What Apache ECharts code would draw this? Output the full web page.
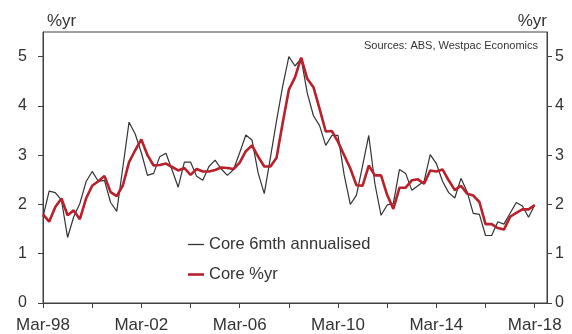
<!DOCTYPE html>
<html>
<head>
<meta charset="utf-8">
<script src="https://cdn.jsdelivr.net/npm/echarts@6/dist/echarts.min.js"></script>
<style>
html,body{margin:0;padding:0;background:#fff;}
#chart{width:572px;height:334px;}
</style>
</head>
<body>
<div id="chart"></div>
<script>
// Quarterly categories Mar-98 .. Sep-18 (axis runs two quarters past the last data point)
var months = ['Mar', 'Jun', 'Sep', 'Dec'];
var categories = [];
for (var y = 1998; y <= 2018; y++) {
  for (var q = 0; q < 4; q++) {
    categories.push(months[q] + '-' + String(y).slice(2));
  }
}
categories = categories.slice(0, 83);

var yTicks = [0, 1, 2, 3, 4, 5];

var seriesNames = ['Core 6mth annualised', 'Core %yr'];

var core6mth = [
  1.75, 2.27, 2.24, 2.09, 1.33, 1.75, 2.02, 2.46, 2.67, 2.47,
  2.49, 2.04, 1.86, 2.76, 3.67, 3.43, 3.05, 2.59, 2.63, 2.97,
  3.04, 2.70, 2.35, 2.86, 2.86, 2.57, 2.49, 2.77, 2.90, 2.72,
  2.59, 2.71, 3.05, 3.41, 3.31, 2.64, 2.22, 2.95, 3.70, 4.40,
  5.00, 4.81, 4.96, 4.26, 3.80, 3.60, 3.20, 3.40, 3.40, 2.60,
  2.00, 2.19, 2.79, 3.40, 2.42, 1.78, 1.99, 2.02, 2.71, 2.63,
  2.29, 2.38, 2.47, 3.01, 2.83, 2.47, 2.24, 2.13, 2.53, 2.26,
  1.82, 1.80, 1.37, 1.37, 1.65, 1.60, 1.82, 2.04, 1.97, 1.74,
  1.99
];

var coreYr = [
  1.80, 1.65, 1.95, 2.12, 1.78, 1.88, 1.70, 2.12, 2.38, 2.47,
  2.58, 2.25, 2.17, 2.39, 2.86, 3.10, 3.32, 3.00, 2.79, 2.80,
  2.83, 2.76, 2.69, 2.74, 2.60, 2.72, 2.67, 2.67, 2.70, 2.75,
  2.74, 2.72, 2.85, 3.08, 3.20, 2.97, 2.77, 2.77, 2.95, 3.66,
  4.33, 4.58, 4.98, 4.55, 4.38, 3.94, 3.48, 3.49, 3.27, 3.00,
  2.73, 2.39, 2.38, 2.79, 2.59, 2.59, 2.19, 1.91, 2.34, 2.34,
  2.49, 2.51, 2.42, 2.69, 2.67, 2.71, 2.49, 2.29, 2.38, 2.22,
  2.18, 2.05, 1.60, 1.60, 1.52, 1.49, 1.75, 1.83, 1.90, 1.90,
  1.99
];

var FONT = '"Liberation Sans", Arial, sans-serif';
var TXT = '#333333';
var AX = '#404040';
var BLACK = '#333333';
var RED = '#B8202B';

function yAxisDef(pos, margin) {
  return {
    type: 'value',
    position: pos,
    min: 0,
    max: 5.5,
    interval: 1,
    splitLine: { show: false },
    axisLine: { show: true, lineStyle: { color: AX, width: 1 } },
    axisTick: { show: true, inside: false, length: 5, lineStyle: { color: AX }, customValues: yTicks },
    axisLabel: {
      show: true, margin: margin, color: TXT, fontFamily: FONT, fontSize: 16,
      customValues: yTicks
    }
  };
}

function legendDef(name, top, h) {
  return {
    orient: 'vertical',
    left: 183,
    top: top,
    icon: 'rect',
    itemWidth: 16,
    itemHeight: h,
    textStyle: { color: TXT, fontFamily: FONT, fontSize: 16.5 },
    data: [name]
  };
}

var chart = echarts.init(document.getElementById('chart'), null, { renderer: 'canvas' });
chart.setOption({
  animation: false,
  backgroundColor: '#ffffff',
  grid: {
    left: 43, right: 25, top: 32, bottom: 29,
    show: true, borderColor: AX, borderWidth: 1, backgroundColor: 'transparent'
  },
  legend: [
    legendDef(seriesNames[0], 231, 1.3),
    legendDef(seriesNames[1], 261, 2.6)
  ],
  graphic: [
    { type: 'text', left: 47, top: 13, style: { text: '%yr', fill: TXT, font: '17px ' + FONT } },
    { type: 'text', right: 25, top: 13, style: { text: '%yr', fill: TXT, font: '17px ' + FONT } },
    { type: 'text', right: 34, top: 40, style: { text: 'Sources: ABS, Westpac Economics', fill: TXT, font: '11px ' + FONT } }
  ],
  xAxis: {
    type: 'category',
    data: categories,
    boundaryGap: false,
    axisLine: { show: true, onZero: false, lineStyle: { color: AX, width: 1 } },
    axisTick: { show: true, interval: 7, length: 5, lineStyle: { color: AX } },
    axisLabel: { interval: 15, margin: 14, color: TXT, fontFamily: FONT, fontSize: 17 },
    splitLine: { show: false }
  },
  yAxis: [yAxisDef('left', 16), yAxisDef('right', 8)],
  series: [
    {
      name: seriesNames[0],
      type: 'line',
      data: core6mth,
      yAxisIndex: 0,
      symbol: 'none',
      lineStyle: { color: BLACK, width: 1.2 },
      itemStyle: { color: BLACK },
      z: 2
    },
    {
      name: seriesNames[1],
      type: 'line',
      data: coreYr,
      yAxisIndex: 0,
      symbol: 'none',
      lineStyle: { color: RED, width: 2.6 },
      itemStyle: { color: RED },
      z: 3
    }
  ]
});
</script>
</body>
</html>
